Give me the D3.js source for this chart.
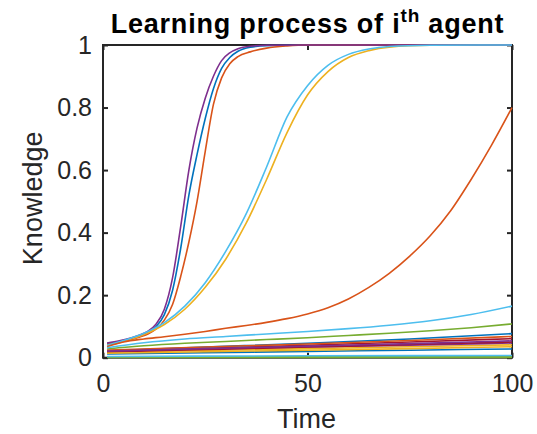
<!DOCTYPE html>
<html>
<head>
<meta charset="utf-8">
<script src="https://cdn.jsdelivr.net/npm/d3@7"></script>
<style>
  html, body { margin: 0; padding: 0; background: #fff; }
  svg { display: block; }
  text { font-family: "Liberation Sans", Arial, Helvetica, sans-serif; }
</style>
</head>
<body>
<svg id="chart" width="537" height="434"></svg>
<script>
// Knowledge of each agent over time, sampled as [time, knowledge] pairs.
const fastBlue = [[1,0.045],[4,0.052],[7,0.061],[9,0.069],[11,0.08],[13,0.1],[15,0.138],[17,0.215],[19,0.35],[21,0.52],[23,0.65],[25,0.765],[27,0.86],[29,0.925],[31,0.96],[33,0.98],[36,0.993],[40,0.998],[50,1],[100,1]];
const fastOrange = [[1,0.043],[4,0.05],[7,0.058],[9,0.066],[11,0.076],[13,0.092],[15,0.12],[17,0.17],[19,0.26],[21,0.37],[23,0.5],[25,0.66],[27,0.81],[29,0.895],[31,0.94],[33,0.963],[36,0.978],[40,0.99],[45,0.997],[50,1],[100,1]];
const midYellow = [[1,0.038],[5,0.052],[10,0.074],[15,0.106],[20,0.155],[25,0.225],[30,0.315],[35,0.43],[40,0.57],[45,0.72],[50,0.84],[55,0.915],[60,0.96],[65,0.982],[70,0.993],[80,0.999],[100,1]];
const fastPurple = [[1,0.047],[4,0.054],[7,0.064],[9,0.073],[11,0.085],[13,0.108],[15,0.155],[17,0.255],[19,0.42],[21,0.6],[23,0.735],[25,0.83],[27,0.9],[29,0.95],[31,0.975],[33,0.988],[36,0.996],[40,0.999],[50,1],[100,1]];
const lowGreen = [[1,0.028],[10,0.038],[20,0.046],[30,0.052],[40,0.058],[50,0.064],[60,0.071],[70,0.078],[80,0.086],[90,0.096],[100,0.108]];
const midLightBlue = [[1,0.04],[5,0.055],[10,0.078],[15,0.112],[20,0.165],[25,0.24],[30,0.34],[35,0.46],[40,0.61],[45,0.77],[50,0.87],[55,0.935],[60,0.97],[65,0.987],[70,0.995],[80,0.999],[100,1]];
const lowRed1 = [[1,0.019],[25,0.03],[50,0.04],[75,0.05],[100,0.061]];
const lowBlue1 = [[1,0.022],[25,0.034],[50,0.046],[75,0.06],[100,0.077]];
const slowOrange = [[1,0.035],[5,0.05],[10,0.06],[15,0.067],[20,0.075],[25,0.084],[30,0.094],[35,0.103],[40,0.113],[45,0.125],[50,0.14],[55,0.16],[60,0.188],[65,0.225],[70,0.27],[75,0.325],[80,0.39],[85,0.47],[90,0.57],[95,0.68],[100,0.8]];
const lowYellow1 = [[1,0.017],[25,0.023],[50,0.029],[75,0.035],[100,0.041]];
const lowPurple1 = [[1,0.022],[25,0.028],[50,0.034],[75,0.04],[100,0.047]];
const flatGreen = [[1,0.003],[50,0.003],[100,0.003]];
const lowLightBlue = [[1,0.032],[10,0.048],[20,0.06],[30,0.068],[40,0.076],[50,0.084],[60,0.093],[70,0.104],[80,0.118],[90,0.138],[100,0.165]];
const lowRed2 = [[1,0.018],[25,0.026],[50,0.034],[75,0.042],[100,0.05]];
const lowBlue2 = [[1,0.012],[25,0.016],[50,0.02],[75,0.024],[100,0.028]];
const lowOrange2 = [[1,0.024],[25,0.034],[50,0.044],[75,0.055],[100,0.068]];
const lowYellow2 = [[1,0.014],[25,0.019],[50,0.024],[75,0.029],[100,0.035]];
const lowPurple2 = [[1,0.021],[25,0.029],[50,0.037],[75,0.045],[100,0.054]];
const zeroGreen = [[1,0.0005],[50,0.0005],[100,0.0005]];
const lowLightBlue2 = [[1,0.004],[50,0.006],[100,0.007]];

// Agents in plotting order; colours follow the default colour order by index.
const agents = [fastBlue, fastOrange, midYellow, fastPurple, lowGreen, midLightBlue, lowRed1,
  lowBlue1, slowOrange, lowYellow1, lowPurple1, flatGreen, lowLightBlue, lowRed2,
  lowBlue2, lowOrange2, lowYellow2, lowPurple2, zeroGreen, lowLightBlue2];
const colorOrder = ["#0072BD", "#D95319", "#EDB120", "#7E2F8E", "#77AC30", "#4DBEEE", "#A2142F"];

const xTicks = [0, 50, 100];
const yTicks = [0, 0.2, 0.4, 0.6, 0.8, 1];
const yTickLabels = ["0", "0.2", "0.4", "0.6", "0.8", "1"];

const svg = d3.select("#chart");
const plotLeft = 103, plotRight = 512, plotTop = 45, plotBottom = 357.7;
const axisColor = "#262626";

const x = d3.scaleLinear().domain([0, 100]).range([plotLeft, plotRight]);
const y = d3.scaleLinear().domain([0, 1]).range([plotBottom, plotTop]);

// Frame box
svg.append("rect")
  .attr("x", plotLeft).attr("y", plotTop)
  .attr("width", plotRight - plotLeft).attr("height", plotBottom - plotTop)
  .attr("fill", "none").attr("stroke", axisColor).attr("stroke-width", 2);

function styleAxis(g, showLabels) {
  g.select(".domain").remove();
  g.selectAll(".tick line").attr("stroke", axisColor).attr("stroke-width", 2);
  g.selectAll(".tick text")
    .attr("fill", axisColor)
    .style("font-size", "25px")
    .style("display", showLabels ? null : "none");
}

svg.append("g").attr("transform", `translate(0,${plotBottom})`)
  .call(d3.axisBottom(x).tickValues(xTicks).tickSizeInner(-5).tickSizeOuter(0).tickPadding(17))
  .call(g => styleAxis(g, true));
svg.append("g").attr("transform", `translate(0,${plotTop})`)
  .call(d3.axisTop(x).tickValues(xTicks).tickSizeInner(-5).tickSizeOuter(0))
  .call(g => styleAxis(g, false));
svg.append("g").attr("transform", `translate(${plotLeft},0)`)
  .call(d3.axisLeft(y).tickValues(yTicks).tickFormat((d, i) => yTickLabels[i]).tickSizeInner(-5).tickSizeOuter(0).tickPadding(11))
  .call(g => styleAxis(g, true));
svg.append("g").attr("transform", `translate(${plotRight},0)`)
  .call(d3.axisRight(y).tickValues(yTicks).tickSizeInner(-5).tickSizeOuter(0))
  .call(g => styleAxis(g, false));

// Knowledge curves, drawn above the frame
const line = d3.line()
  .x(d => x(d[0]))
  .y(d => y(d[1]))
  .curve(d3.curveMonotoneX);

svg.append("g").selectAll("path")
  .data(agents)
  .join("path")
  .attr("d", line)
  .attr("fill", "none")
  .attr("stroke", (d, i) => colorOrder[i % colorOrder.length])
  .attr("stroke-width", 1.6);

// Axis titles
svg.append("text")
  .attr("x", (plotLeft + plotRight) / 2 - 1).attr("y", 428)
  .attr("text-anchor", "middle")
  .attr("fill", axisColor)
  .style("font-size", "27px")
  .text("Time");

svg.append("text")
  .attr("transform", `translate(42,${(plotTop + plotBottom) / 2 - 3}) rotate(-90)`)
  .attr("text-anchor", "middle")
  .attr("fill", axisColor)
  .style("font-size", "27px")
  .text("Knowledge");

// Chart title with superscript
const title = svg.append("text")
  .attr("x", (plotLeft + plotRight) / 2).attr("y", 33)
  .attr("text-anchor", "middle")
  .attr("fill", "#000")
  .style("font-size", "27px")
  .style("font-weight", "bold")
  .style("letter-spacing", "0.8px");
title.append("tspan").text("Learning process of i");
title.append("tspan").attr("dy", -11).style("font-size", "19px").text("th");
title.append("tspan").attr("dy", 11).text(" agent");
</script>
</body>
</html>
